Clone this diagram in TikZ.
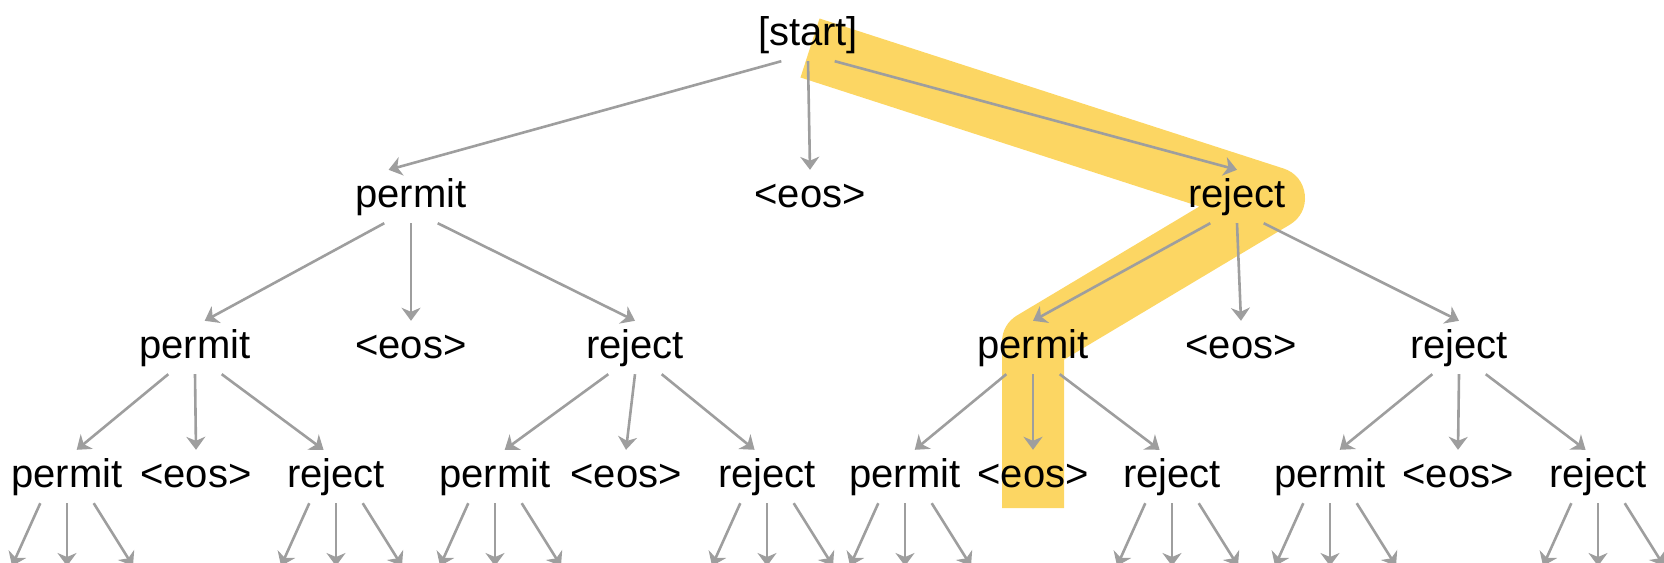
\documentclass[tikz,border=0pt]{standalone}
\usepackage{fontspec}
\setmainfont{Liberation Sans}
\usetikzlibrary{arrows.meta}
\definecolor{arrowgray}{RGB}{158,158,158}
\definecolor{pathyellow}{RGB}{252,214,99}
\tikzset{
  tok/.style={anchor=base, inner xsep=2pt, inner ysep=8pt, text height=29pt, text depth=8pt, font=\fontsize{40}{48}\selectfont},
  arr/.style={draw=arrowgray, line width=2.6pt, -{Stealth[length=13pt,width=19pt,inset=4pt]}},
  hl/.style={draw=pathyellow, line width=62pt, line join=round, line cap=butt}
}

\begin{document}
\begin{tikzpicture}[x=1pt,y=-1pt]
\useasboundingbox (0,0) rectangle (1664,562);
% chosen sequence
\draw[hl] (810,48) -- (1274,198) -- (1033,342) -- (1033,508);

% root
\node[tok] (st) at (808,45) {[start]};
% first token
\node[tok] (p) at (411,207) {permit};
\node[tok] (e) at (810,207) {<eos>};
\node[tok] (r) at (1237,207) {reject};
% second token
\node[tok] (pp) at (195,358) {permit};
\node[tok] (pe) at (411,358) {<eos>};
\node[tok] (pr) at (635,358) {reject};
\node[tok] (rp) at (1033,358) {permit};
\node[tok] (re) at (1241,358) {<eos>};
\node[tok] (rr) at (1459,358) {reject};
% third token
\node[tok] (ppp) at (67,487) {permit};
\node[tok] (ppe) at (196,487) {<eos>};
\node[tok] (ppr) at (336,487) {reject};
\node[tok] (prp) at (495,487) {permit};
\node[tok] (pre) at (626,487) {<eos>};
\node[tok] (prr) at (767,487) {reject};
\node[tok] (rpp) at (905,487) {permit};
\node[tok] (rpe) at (1033,487) {<eos>};
\node[tok] (rpr) at (1172,487) {reject};
\node[tok] (rrp) at (1330,487) {permit};
\node[tok] (rre) at (1458,487) {<eos>};
\node[tok] (rrr) at (1598,487) {reject};

% ends of the cut-off branches
\coordinate (ppp-l) at (12,566);
\coordinate (ppp-m) at (67,566);
\coordinate (ppp-r) at (133,566);
\coordinate (ppr-l) at (281,566);
\coordinate (ppr-m) at (336,566);
\coordinate (ppr-r) at (402,566);
\coordinate (prp-l) at (440,566);
\coordinate (prp-m) at (495,566);
\coordinate (prp-r) at (561,566);
\coordinate (prr-l) at (712,566);
\coordinate (prr-m) at (767,566);
\coordinate (prr-r) at (833,566);
\coordinate (rpp-l) at (850,566);
\coordinate (rpp-m) at (905,566);
\coordinate (rpp-r) at (971,566);
\coordinate (rpr-l) at (1117,566);
\coordinate (rpr-m) at (1172,566);
\coordinate (rpr-r) at (1238,566);
\coordinate (rrp-l) at (1275,566);
\coordinate (rrp-m) at (1330,566);
\coordinate (rrp-r) at (1396,566);
\coordinate (rrr-l) at (1543,566);
\coordinate (rrr-m) at (1598,566);
\coordinate (rrr-r) at (1664,566);

\draw[arr] (st.-135) -- (p.130);
\draw[arr] (st.south) -- (e.north);
\draw[arr] (st.-45) -- (r.north);

\draw[arr] (p.-135) -- (pp.70);
\draw[arr] (p.south) -- (pe.north);
\draw[arr] (p.-45) -- (pr.north);
\draw[arr] (r.-135) -- (rp.north);
\draw[arr] (r.south) -- (re.north);
\draw[arr] (r.-45) -- (rr.north);

\draw[arr] (pp.-135) -- (ppp.70);
\draw[arr] (pp.south) -- (ppe.north);
\draw[arr] (pp.-45) -- (ppr.115);
\draw[arr] (pr.-135) -- (prp.70);
\draw[arr] (pr.south) -- (pre.north);
\draw[arr] (pr.-45) -- (prr.115);
\draw[arr] (rp.-135) -- (rpp.70);
\draw[arr] (rp.south) -- (rpe.north);
\draw[arr] (rp.-45) -- (rpr.115);
\draw[arr] (rr.-135) -- (rrp.70);
\draw[arr] (rr.south) -- (rre.north);
\draw[arr] (rr.-45) -- (rrr.115);

\draw[arr] (ppp.-135) -- (ppp-l);
\draw[arr] (ppp.south) -- (ppp-m);
\draw[arr] (ppp.-45) -- (ppp-r);
\draw[arr] (ppr.-135) -- (ppr-l);
\draw[arr] (ppr.south) -- (ppr-m);
\draw[arr] (ppr.-45) -- (ppr-r);
\draw[arr] (prp.-135) -- (prp-l);
\draw[arr] (prp.south) -- (prp-m);
\draw[arr] (prp.-45) -- (prp-r);
\draw[arr] (prr.-135) -- (prr-l);
\draw[arr] (prr.south) -- (prr-m);
\draw[arr] (prr.-45) -- (prr-r);
\draw[arr] (rpp.-135) -- (rpp-l);
\draw[arr] (rpp.south) -- (rpp-m);
\draw[arr] (rpp.-45) -- (rpp-r);
\draw[arr] (rpr.-135) -- (rpr-l);
\draw[arr] (rpr.south) -- (rpr-m);
\draw[arr] (rpr.-45) -- (rpr-r);
\draw[arr] (rrp.-135) -- (rrp-l);
\draw[arr] (rrp.south) -- (rrp-m);
\draw[arr] (rrp.-45) -- (rrp-r);
\draw[arr] (rrr.-135) -- (rrr-l);
\draw[arr] (rrr.south) -- (rrr-m);
\draw[arr] (rrr.-45) -- (rrr-r);
\end{tikzpicture}
\end{document}
